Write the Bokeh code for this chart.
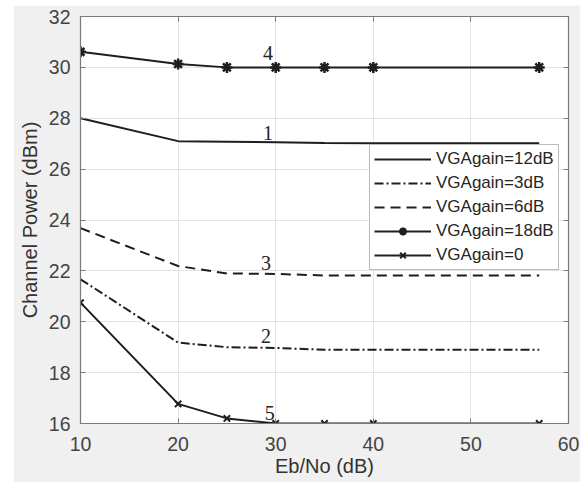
from bokeh.plotting import figure
from bokeh.models import Legend, LegendItem, LinearAxis, FixedTicker, Range1d
from bokeh.core.properties import value
from bokeh.embed import file_html
from bokeh.resources import INLINE

# data
ebno = [10, 20, 25, 30, 35, 40, 57]
gain12 = [28.0, 27.1, 27.08, 27.06, 27.03, 27.02, 27.02]
gain3 = [21.67, 19.18, 19.0, 18.97, 18.9, 18.9, 18.9]
gain6 = [23.68, 22.19, 21.9, 21.88, 21.82, 21.82, 21.82]
gain18 = [30.61, 30.13, 30.0, 30.0, 30.0, 30.0, 30.0]
gain0 = [20.75, 16.77, 16.2, 16.0, 16.0, 16.0, 16.0]
series_names = ["VGAgain=12dB", "VGAgain=3dB", "VGAgain=6dB", "VGAgain=18dB", "VGAgain=0"]
curve_labels = ["1", "2", "3", "4", "5"]
label_x = [29.2, 29.0, 29.0, 29.2, 29.4]
label_y = [27.41, 19.44, 22.32, 30.58, 16.42]
x_ticks = [10, 20, 30, 40, 50, 60]
y_ticks = [16, 18, 20, 22, 24, 26, 28, 30, 32]

SANS = "Liberation Sans"
INK = "#1e1e1e"
AX = "#7a7a7a"

p = figure(width=567, height=477, output_backend="svg", toolbar_location=None,
           x_range=Range1d(10, 60), y_range=Range1d(16, 32),
           min_border_left=67, min_border_top=11, min_border_right=12, min_border_bottom=59,
           background_fill_color="white", border_fill_color="#f0f0f0",
           outline_line_color=AX, outline_line_width=1.2)
p.margin = (5, 0, 0, 13)

for ax in (p.xaxis[0], p.yaxis[0]):
    ax.major_tick_in = 5
    ax.major_tick_out = 0
    ax.minor_tick_in = 0
    ax.minor_tick_out = 0
    ax.axis_line_color = AX
    ax.major_tick_line_color = AX
    ax.major_label_text_font = SANS
    ax.major_label_text_font_size = "19.5px"
    ax.major_label_text_color = "#444444"
    ax.axis_label_text_font = SANS
    ax.axis_label_text_font_size = "20px"
    ax.axis_label_text_font_style = "normal"
    ax.axis_label_text_color = "#333333"

p.xaxis[0].ticker = FixedTicker(ticks=x_ticks)
p.yaxis[0].ticker = FixedTicker(ticks=y_ticks)
p.xaxis[0].axis_label = "Eb/No (dB)"
p.yaxis[0].axis_label = "Channel Power (dBm)"
p.xaxis[0].major_label_standoff = 13
p.xaxis[0].axis_label_standoff = 1
p.yaxis[0].major_label_standoff = 10
p.yaxis[0].axis_label_standoff = 5

# mirrored tick axes (box on)
for loc, tk in (("right", y_ticks), ("above", x_ticks)):
    a = LinearAxis(ticker=FixedTicker(ticks=tk), major_tick_in=5, major_tick_out=0,
                   minor_tick_in=0, minor_tick_out=0,
                   major_label_overrides={t: "" for t in tk},
                   major_label_standoff=0, axis_line_color=AX, major_tick_line_color=AX)
    p.add_layout(a, loc)

p.xgrid.grid_line_color = "#e3e3e3"
p.ygrid.grid_line_color = "#e3e3e3"
p.xgrid.ticker = FixedTicker(ticks=x_ticks)
p.ygrid.ticker = FixedTicker(ticks=y_ticks)

r12 = p.line(ebno, gain12, line_color=INK, line_width=2)
r3 = p.line(ebno, gain3, line_color=INK, line_width=2, line_dash="9 3 2 3")
r6 = p.line(ebno, gain6, line_color=INK, line_width=2, line_dash="10 6")
r18 = p.line(ebno, gain18, line_color=INK, line_width=2)
m18 = p.scatter(ebno, gain18, marker="asterisk", size=11, line_color=INK, line_width=2.5)
r0 = p.line(ebno, gain0, line_color=INK, line_width=2)
m0 = p.scatter(ebno, gain0, marker="x", size=9, line_color=INK, line_width=2)

p.text(label_x, label_y, text=curve_labels, text_font=value("Liberation Serif"),
       text_font_size="20px", text_color="#222222", text_align="center",
       text_baseline="middle")

legend = Legend(items=[
    LegendItem(label=series_names[0], renderers=[r12]),
    LegendItem(label=series_names[1], renderers=[r3]),
    LegendItem(label=series_names[2], renderers=[r6]),
    LegendItem(label=series_names[3], renderers=[r18, m18]),
    LegendItem(label=series_names[4], renderers=[r0, m0]),
], location=(289, 153))
legend.label_text_font = SANS
legend.label_text_font_size = "17px"
legend.label_text_color = "#262626"
legend.glyph_width = 57
legend.glyph_height = 20
legend.label_height = 20
legend.spacing = 4
legend.padding = 4
legend.margin = 0
legend.label_standoff = 5
legend.border_line_color = AX
legend.border_line_width = 1.2
legend.background_fill_color = "white"
legend.background_fill_alpha = 1
p.add_layout(legend, "center")

open("out.html", "w").write(file_html(p, INLINE))
